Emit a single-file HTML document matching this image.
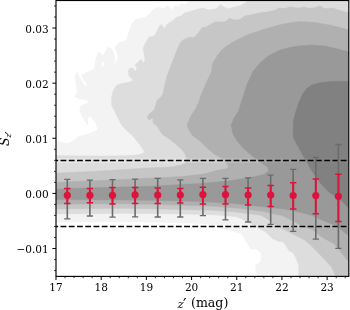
<!DOCTYPE html>
<html><head><meta charset="utf-8"><title>plot</title>
<style>html,body{margin:0;padding:0;background:#fff;}svg{display:block;}text{font-family:"DejaVu Serif","Liberation Serif",serif;fill:#000;}</style>
</head><body>
<svg width="350" height="310" viewBox="0 0 350 310">
<rect x="0" y="0" width="350" height="310" fill="#ffffff"/>
<defs><clipPath id="ax"><rect x="56.0" y="0.5" width="292.8" height="275.9"/></clipPath></defs>
<defs><linearGradient id="halo" gradientUnits="userSpaceOnUse" x1="56" y1="0" x2="300" y2="0"><stop offset="0" stop-color="#fff" stop-opacity="0.3"/><stop offset="0.6" stop-color="#fff" stop-opacity="0.2"/><stop offset="1" stop-color="#fff" stop-opacity="0.03"/></linearGradient></defs>
<g clip-path="url(#ax)">
<path d="M55.0 140.0L61.4 142.3L67.0 143.7L72.9 141.0L78.6 136.6L88.6 133.7L95.7 131.0L97.7 129.7L96.0 123.7L92.6 118.6L89.2 116.0L87.4 119.5L88.3 125.5L85.7 122.0L82.3 116.9L79.7 110.9L80.6 105.7L84.9 104.0L89.2 102.3L85.7 99.7L79.7 98.9L74.6 97.0L77.1 91.7L76.0 84.9L74.9 75.7L77.1 72.3L80.6 79.1L85.1 86.0L87.4 84.9L82.9 79.1L81.7 74.6L87.4 72.3L94.3 68.9L95.4 60.9L97.7 52.9L100.0 51.7L102.3 56.3L104.6 52.9L108.0 47.1L111.4 48.3L113.7 52.9L114.9 59.7L112.6 64.3L116.0 62.0L118.3 57.4L114.9 47.1L119.4 42.6L126.3 40.3L128.6 32.3L130.0 29.0L131.4 24.3L135.7 19.4L144.3 17.7L150.0 13.5L152.9 10.0L157.0 7.0L164.3 8.6L167.0 5.7L170.0 7.0L171.4 11.4L174.3 5.7L178.6 6.3L181.4 3.4L185.7 4.3L188.6 1.4L193.0 0.0L350.0 0.0L350.0 277.0L258.0 277.0L256.0 272.0L255.0 265.0L259.0 261.0L255.0 256.0L250.0 248.0L245.0 240.0L242.0 234.0L232.0 231.0L222.0 228.5L213.0 225.0L200.0 223.5L160.0 222.3L124.0 221.8L55.0 222.2Z" fill="#f3f3f3" stroke="#f3f3f3" stroke-width="0.4"/>
<path d="M85.2 62.0L86.4 64.3L85.2 66.6L84.0 64.3Z" fill="#ffffff" stroke="#ffffff" stroke-width="0.4"/>
<path d="M102.0 62.0L104.0 62.5L104.0 66.0L102.0 65.5Z" fill="#ffffff" stroke="#ffffff" stroke-width="0.4"/>
<path d="M250.0 250.0L256.0 249.0L261.0 254.0L260.0 262.0L255.0 265.0L250.0 264.0Z" fill="#ffffff" stroke="#ffffff" stroke-width="0.4"/>
<path d="M55.0 155.5L100.0 156.0L130.0 155.5L140.0 154.5L144.3 152.3L143.0 149.4L140.0 145.0L136.0 140.0L132.0 135.0L127.0 131.0L121.4 125.0L116.0 114.0L111.5 105.0L111.5 97.0L113.0 91.0L116.0 86.0L117.0 85.0L120.0 84.0L124.0 83.0L130.0 82.0L133.0 80.0L129.0 76.0L128.0 71.0L130.0 68.0L133.0 68.0L135.0 71.0L137.0 69.0L135.0 65.0L138.0 62.0L141.0 59.0L143.0 63.0L145.0 60.0L144.0 54.0L143.0 48.0L145.0 44.0L147.0 40.0L149.0 37.0L154.0 36.0L156.0 33.0L158.6 27.0L161.4 24.3L164.3 28.6L167.0 24.3L171.4 21.4L177.0 17.0L181.4 15.7L184.3 12.9L190.0 11.4L194.3 10.0L200.0 8.5L203.4 8.0L209.0 10.0L216.0 8.7L220.6 4.6L224.0 6.9L228.6 8.7L234.3 6.9L240.0 5.7L245.7 2.7L249.0 0.0L350.0 0.0L350.0 277.0L298.6 277.0L298.6 266.0L297.9 263.4L295.7 257.7L292.9 252.7L288.6 250.6L286.4 246.3L282.9 242.0L278.6 241.3L272.9 239.0L270.0 236.3L265.7 232.0L258.6 228.4L250.0 223.5L243.0 219.5L236.0 216.7L213.0 214.7L160.0 213.8L124.0 213.4L55.0 214.0Z" fill="#dddddd" stroke="#dddddd" stroke-width="0.4"/>
<path d="M55.0 173.2L68.0 172.6L100.0 171.0L148.0 168.0L171.0 166.9L180.0 165.3L185.5 163.3L186.7 160.5L186.0 156.5L184.3 152.5L182.0 150.0L178.0 146.0L173.0 142.0L168.0 138.0L163.0 135.0L160.0 131.0L157.0 126.0L153.0 123.0L153.0 118.0L149.0 120.0L147.0 117.0L150.0 113.0L154.0 110.0L156.0 104.0L157.0 100.0L160.0 98.0L163.0 94.0L164.0 88.0L165.0 84.0L167.0 76.0L170.0 68.0L171.4 64.3L174.3 57.0L177.0 50.0L180.0 43.0L183.0 40.0L186.0 38.6L190.0 37.0L193.4 38.0L197.7 33.7L202.0 27.7L207.0 26.5L212.0 23.4L215.7 21.7L221.0 22.0L225.0 21.7L229.7 18.3L234.3 20.0L240.0 19.4L244.6 16.0L250.0 15.0L258.6 12.9L267.0 12.0L275.7 10.0L278.6 8.0L284.3 8.6L290.0 7.0L298.6 8.0L304.3 7.0L310.0 8.6L317.0 7.0L320.0 5.7L324.3 8.6L333.0 8.0L338.6 10.0L345.7 12.0L350.0 12.5L350.0 277.0L335.2 277.0L334.3 272.6L331.6 267.2L326.2 260.9L318.9 253.6L310.0 244.5L304.2 239.8L300.0 237.5L297.0 236.3L290.0 232.5L281.7 228.5L275.0 224.5L268.0 219.5L261.0 215.3L236.0 212.1L213.0 210.2L160.0 209.0L124.0 208.3L55.0 209.0Z" fill="#c6c6c6" stroke="#c6c6c6" stroke-width="0.4"/>
<path d="M55.0 182.5L68.0 181.7L100.0 180.5L148.0 178.3L182.0 176.5L205.0 173.7L216.6 170.3L227.4 168.6L228.5 166.0L226.3 162.9L221.0 158.0L214.0 154.0L207.0 148.0L200.0 141.0L197.0 139.0L192.0 135.0L189.0 130.0L187.0 125.0L189.0 120.0L192.0 114.0L196.0 108.0L199.5 100.0L201.0 95.0L204.5 87.0L208.0 79.0L211.4 72.0L212.5 63.5L217.0 56.0L221.7 50.0L226.0 46.5L232.9 42.0L239.7 38.5L248.6 34.5L262.9 29.5L280.0 24.8L291.4 22.5L300.0 21.5L315.0 22.5L330.0 25.0L340.0 27.5L350.0 30.0L350.0 263.0L346.0 258.5L340.0 251.0L336.0 246.0L334.0 243.7L331.0 242.0L325.0 239.0L320.0 235.8L316.0 232.5L312.0 229.5L306.0 227.5L301.0 226.0L296.0 222.5L290.0 219.5L282.0 215.6L261.0 211.1L236.0 208.0L213.0 206.3L160.0 204.6L124.0 203.7L55.0 204.2Z" fill="#b0b0b0" stroke="#b0b0b0" stroke-width="0.4"/>
<path d="M55.0 189.5L68.0 188.6L100.0 187.5L148.0 186.3L200.0 183.4L213.7 182.3L227.4 181.1L241.0 178.9L254.9 176.6L264.0 174.3L268.6 170.9L267.5 167.0L261.7 163.0L256.0 159.0L250.0 154.0L243.0 148.0L237.0 141.0L233.0 134.0L231.0 125.0L234.0 118.0L238.6 111.0L241.0 103.0L243.5 95.0L247.0 84.3L252.9 71.4L260.0 62.9L268.6 55.7L280.0 50.0L291.4 47.0L300.0 45.7L312.0 45.0L325.0 46.0L338.0 49.0L350.0 52.0L350.0 236.5L344.0 232.0L336.0 225.5L322.0 220.3L312.0 215.6L301.0 212.5L290.0 210.0L282.0 208.8L261.0 206.6L236.0 203.7L213.0 202.2L190.0 201.2L160.0 200.4L124.0 199.9L55.0 199.6Z" fill="#999999" stroke="#999999" stroke-width="0.4"/>
<path d="M350.0 81.5L340.0 81.3L330.0 81.5L320.0 82.7L312.0 85.0L307.0 88.0L303.0 93.5L299.5 101.0L296.0 111.0L293.5 120.0L293.0 131.0L293.3 137.0L296.0 143.0L299.0 148.0L302.0 154.0L306.0 160.0L310.0 168.0L314.0 174.0L318.0 180.0L320.8 183.6L325.1 188.6L330.1 192.9L335.1 196.0L342.2 201.4L345.7 205.0L350.0 209.5Z" fill="#818181" stroke="#818181" stroke-width="0.4"/>
<rect x="56.0" y="158.30" width="292.8" height="4.6" fill="url(#halo)"/>
<line x1="56.0" x2="348.7" y1="160.60" y2="160.60" stroke="#000" stroke-width="1.5" stroke-dasharray="5.85 2.39" stroke-dashoffset="3.72"/>
<rect x="56.0" y="224.10" width="292.8" height="4.6" fill="url(#halo)"/>
<line x1="56.0" x2="348.7" y1="226.40" y2="226.40" stroke="#000" stroke-width="1.5" stroke-dasharray="5.85 2.39" stroke-dashoffset="3.72"/>
<g stroke="#6b6b6b" fill="none"><line x1="67.3" x2="67.3" y1="179.4" y2="218.9" stroke-width="1.6"/><line x1="64.2" x2="70.4" y1="179.4" y2="179.4" stroke-width="1.3"/><line x1="64.2" x2="70.4" y1="218.9" y2="218.9" stroke-width="1.3"/></g>
<g stroke="#6b6b6b" fill="none"><line x1="89.9" x2="89.9" y1="180.1" y2="216.0" stroke-width="1.6"/><line x1="86.8" x2="93.0" y1="180.1" y2="180.1" stroke-width="1.3"/><line x1="86.8" x2="93.0" y1="216.0" y2="216.0" stroke-width="1.3"/></g>
<g stroke="#6b6b6b" fill="none"><line x1="112.5" x2="112.5" y1="179.6" y2="217.1" stroke-width="1.6"/><line x1="109.4" x2="115.6" y1="179.6" y2="179.6" stroke-width="1.3"/><line x1="109.4" x2="115.6" y1="217.1" y2="217.1" stroke-width="1.3"/></g>
<g stroke="#6b6b6b" fill="none"><line x1="135.1" x2="135.1" y1="179.2" y2="216.9" stroke-width="1.6"/><line x1="132.0" x2="138.2" y1="179.2" y2="179.2" stroke-width="1.3"/><line x1="132.0" x2="138.2" y1="216.9" y2="216.9" stroke-width="1.3"/></g>
<g stroke="#6b6b6b" fill="none"><line x1="157.7" x2="157.7" y1="178.4" y2="217.0" stroke-width="1.6"/><line x1="154.6" x2="160.8" y1="178.4" y2="178.4" stroke-width="1.3"/><line x1="154.6" x2="160.8" y1="217.0" y2="217.0" stroke-width="1.3"/></g>
<g stroke="#6b6b6b" fill="none"><line x1="180.3" x2="180.3" y1="179.9" y2="217.0" stroke-width="1.6"/><line x1="177.2" x2="183.4" y1="179.9" y2="179.9" stroke-width="1.3"/><line x1="177.2" x2="183.4" y1="217.0" y2="217.0" stroke-width="1.3"/></g>
<g stroke="#6b6b6b" fill="none"><line x1="202.9" x2="202.9" y1="178.4" y2="215.6" stroke-width="1.6"/><line x1="199.8" x2="206.0" y1="178.4" y2="178.4" stroke-width="1.3"/><line x1="199.8" x2="206.0" y1="215.6" y2="215.6" stroke-width="1.3"/></g>
<g stroke="#6b6b6b" fill="none"><line x1="225.5" x2="225.5" y1="178.4" y2="219.9" stroke-width="1.6"/><line x1="222.4" x2="228.6" y1="178.4" y2="178.4" stroke-width="1.3"/><line x1="222.4" x2="228.6" y1="219.9" y2="219.9" stroke-width="1.3"/></g>
<g stroke="#6b6b6b" fill="none"><line x1="248.1" x2="248.1" y1="177.9" y2="222.0" stroke-width="1.6"/><line x1="245.0" x2="251.2" y1="177.9" y2="177.9" stroke-width="1.3"/><line x1="245.0" x2="251.2" y1="222.0" y2="222.0" stroke-width="1.3"/></g>
<g stroke="#6b6b6b" fill="none"><line x1="270.7" x2="270.7" y1="175.2" y2="224.3" stroke-width="1.6"/><line x1="267.6" x2="273.8" y1="175.2" y2="175.2" stroke-width="1.3"/><line x1="267.6" x2="273.8" y1="224.3" y2="224.3" stroke-width="1.3"/></g>
<g stroke="#6b6b6b" fill="none"><line x1="293.2" x2="293.2" y1="169.3" y2="231.3" stroke-width="1.6"/><line x1="290.1" x2="296.3" y1="169.3" y2="169.3" stroke-width="1.3"/><line x1="290.1" x2="296.3" y1="231.3" y2="231.3" stroke-width="1.3"/></g>
<g stroke="#6b6b6b" fill="none"><line x1="315.8" x2="315.8" y1="157.3" y2="239.1" stroke-width="1.6"/><line x1="312.7" x2="318.9" y1="157.3" y2="157.3" stroke-width="1.3"/><line x1="312.7" x2="318.9" y1="239.1" y2="239.1" stroke-width="1.3"/></g>
<g stroke="#6b6b6b" fill="none"><line x1="338.4" x2="338.4" y1="144.5" y2="248.4" stroke-width="1.6"/><line x1="335.3" x2="341.5" y1="144.5" y2="144.5" stroke-width="1.3"/><line x1="335.3" x2="341.5" y1="248.4" y2="248.4" stroke-width="1.3"/></g>
<g stroke="#dc143c" fill="none"><line x1="67.3" x2="67.3" y1="188.5" y2="203.4" stroke-width="2"/><line x1="64.1" x2="70.5" y1="188.5" y2="188.5" stroke-width="1.5"/><line x1="64.1" x2="70.5" y1="203.4" y2="203.4" stroke-width="1.5"/></g>
<circle cx="67.3" cy="195.3" r="3.6" fill="#dc143c"/>
<g stroke="#dc143c" fill="none"><line x1="89.9" x2="89.9" y1="188.5" y2="202.7" stroke-width="2"/><line x1="86.7" x2="93.1" y1="188.5" y2="188.5" stroke-width="1.5"/><line x1="86.7" x2="93.1" y1="202.7" y2="202.7" stroke-width="1.5"/></g>
<circle cx="89.9" cy="195.3" r="3.6" fill="#dc143c"/>
<g stroke="#dc143c" fill="none"><line x1="112.5" x2="112.5" y1="187.4" y2="204.1" stroke-width="2"/><line x1="109.3" x2="115.7" y1="187.4" y2="187.4" stroke-width="1.5"/><line x1="109.3" x2="115.7" y1="204.1" y2="204.1" stroke-width="1.5"/></g>
<circle cx="112.5" cy="195.3" r="3.6" fill="#dc143c"/>
<g stroke="#dc143c" fill="none"><line x1="135.1" x2="135.1" y1="187.4" y2="203.6" stroke-width="2"/><line x1="131.9" x2="138.3" y1="187.4" y2="187.4" stroke-width="1.5"/><line x1="131.9" x2="138.3" y1="203.6" y2="203.6" stroke-width="1.5"/></g>
<circle cx="135.1" cy="194.9" r="3.6" fill="#dc143c"/>
<g stroke="#dc143c" fill="none"><line x1="157.7" x2="157.7" y1="187.9" y2="203.6" stroke-width="2"/><line x1="154.5" x2="160.9" y1="187.9" y2="187.9" stroke-width="1.5"/><line x1="154.5" x2="160.9" y1="203.6" y2="203.6" stroke-width="1.5"/></g>
<circle cx="157.7" cy="195.0" r="3.6" fill="#dc143c"/>
<g stroke="#dc143c" fill="none"><line x1="180.3" x2="180.3" y1="188.4" y2="203.0" stroke-width="2"/><line x1="177.1" x2="183.5" y1="188.4" y2="188.4" stroke-width="1.5"/><line x1="177.1" x2="183.5" y1="203.0" y2="203.0" stroke-width="1.5"/></g>
<circle cx="180.3" cy="195.0" r="3.6" fill="#dc143c"/>
<g stroke="#dc143c" fill="none"><line x1="202.9" x2="202.9" y1="187.3" y2="204.0" stroke-width="2"/><line x1="199.7" x2="206.1" y1="187.3" y2="187.3" stroke-width="1.5"/><line x1="199.7" x2="206.1" y1="204.0" y2="204.0" stroke-width="1.5"/></g>
<circle cx="202.9" cy="194.6" r="3.6" fill="#dc143c"/>
<g stroke="#dc143c" fill="none"><line x1="225.5" x2="225.5" y1="186.4" y2="204.0" stroke-width="2"/><line x1="222.3" x2="228.7" y1="186.4" y2="186.4" stroke-width="1.5"/><line x1="222.3" x2="228.7" y1="204.0" y2="204.0" stroke-width="1.5"/></g>
<circle cx="225.5" cy="194.6" r="3.6" fill="#dc143c"/>
<g stroke="#dc143c" fill="none"><line x1="248.1" x2="248.1" y1="187.9" y2="205.0" stroke-width="2"/><line x1="244.9" x2="251.3" y1="187.9" y2="187.9" stroke-width="1.5"/><line x1="244.9" x2="251.3" y1="205.0" y2="205.0" stroke-width="1.5"/></g>
<circle cx="248.1" cy="195.0" r="3.6" fill="#dc143c"/>
<g stroke="#dc143c" fill="none"><line x1="270.7" x2="270.7" y1="185.6" y2="206.6" stroke-width="2"/><line x1="267.5" x2="273.9" y1="185.6" y2="185.6" stroke-width="1.5"/><line x1="267.5" x2="273.9" y1="206.6" y2="206.6" stroke-width="1.5"/></g>
<circle cx="270.7" cy="195.0" r="3.6" fill="#dc143c"/>
<g stroke="#dc143c" fill="none"><line x1="293.2" x2="293.2" y1="182.7" y2="209.1" stroke-width="2"/><line x1="290.0" x2="296.4" y1="182.7" y2="182.7" stroke-width="1.5"/><line x1="290.0" x2="296.4" y1="209.1" y2="209.1" stroke-width="1.5"/></g>
<circle cx="293.2" cy="195.5" r="3.6" fill="#dc143c"/>
<g stroke="#dc143c" fill="none"><line x1="315.8" x2="315.8" y1="179.0" y2="213.7" stroke-width="2"/><line x1="312.6" x2="319.0" y1="179.0" y2="179.0" stroke-width="1.5"/><line x1="312.6" x2="319.0" y1="213.7" y2="213.7" stroke-width="1.5"/></g>
<circle cx="315.8" cy="195.6" r="3.6" fill="#dc143c"/>
<g stroke="#dc143c" fill="none"><line x1="338.4" x2="338.4" y1="174.2" y2="221.4" stroke-width="2"/><line x1="335.2" x2="341.6" y1="174.2" y2="174.2" stroke-width="1.5"/><line x1="335.2" x2="341.6" y1="221.4" y2="221.4" stroke-width="1.5"/></g>
<circle cx="338.4" cy="196.3" r="3.6" fill="#dc143c"/>
</g>
<g stroke="#000"><line x1="56.00" x2="56.00" y1="276.4" y2="280.0" stroke-width="1"/><line x1="101.19" x2="101.19" y1="276.4" y2="280.0" stroke-width="1"/><line x1="146.38" x2="146.38" y1="276.4" y2="280.0" stroke-width="1"/><line x1="191.57" x2="191.57" y1="276.4" y2="280.0" stroke-width="1"/><line x1="236.76" x2="236.76" y1="276.4" y2="280.0" stroke-width="1"/><line x1="281.95" x2="281.95" y1="276.4" y2="280.0" stroke-width="1"/><line x1="327.14" x2="327.14" y1="276.4" y2="280.0" stroke-width="1"/><line x1="65.04" x2="65.04" y1="276.4" y2="278.3" stroke-width="0.8"/><line x1="74.08" x2="74.08" y1="276.4" y2="278.3" stroke-width="0.8"/><line x1="83.11" x2="83.11" y1="276.4" y2="278.3" stroke-width="0.8"/><line x1="92.15" x2="92.15" y1="276.4" y2="278.3" stroke-width="0.8"/><line x1="110.23" x2="110.23" y1="276.4" y2="278.3" stroke-width="0.8"/><line x1="119.27" x2="119.27" y1="276.4" y2="278.3" stroke-width="0.8"/><line x1="128.30" x2="128.30" y1="276.4" y2="278.3" stroke-width="0.8"/><line x1="137.34" x2="137.34" y1="276.4" y2="278.3" stroke-width="0.8"/><line x1="155.42" x2="155.42" y1="276.4" y2="278.3" stroke-width="0.8"/><line x1="164.46" x2="164.46" y1="276.4" y2="278.3" stroke-width="0.8"/><line x1="173.49" x2="173.49" y1="276.4" y2="278.3" stroke-width="0.8"/><line x1="182.53" x2="182.53" y1="276.4" y2="278.3" stroke-width="0.8"/><line x1="200.61" x2="200.61" y1="276.4" y2="278.3" stroke-width="0.8"/><line x1="209.65" x2="209.65" y1="276.4" y2="278.3" stroke-width="0.8"/><line x1="218.68" x2="218.68" y1="276.4" y2="278.3" stroke-width="0.8"/><line x1="227.72" x2="227.72" y1="276.4" y2="278.3" stroke-width="0.8"/><line x1="245.80" x2="245.80" y1="276.4" y2="278.3" stroke-width="0.8"/><line x1="254.84" x2="254.84" y1="276.4" y2="278.3" stroke-width="0.8"/><line x1="263.87" x2="263.87" y1="276.4" y2="278.3" stroke-width="0.8"/><line x1="272.91" x2="272.91" y1="276.4" y2="278.3" stroke-width="0.8"/><line x1="290.99" x2="290.99" y1="276.4" y2="278.3" stroke-width="0.8"/><line x1="300.03" x2="300.03" y1="276.4" y2="278.3" stroke-width="0.8"/><line x1="309.06" x2="309.06" y1="276.4" y2="278.3" stroke-width="0.8"/><line x1="318.10" x2="318.10" y1="276.4" y2="278.3" stroke-width="0.8"/><line x1="336.18" x2="336.18" y1="276.4" y2="278.3" stroke-width="0.8"/><line x1="345.22" x2="345.22" y1="276.4" y2="278.3" stroke-width="0.8"/><line x1="52.4" x2="56.0" y1="248.52" y2="248.52" stroke-width="1"/><line x1="52.4" x2="56.0" y1="193.40" y2="193.40" stroke-width="1"/><line x1="52.4" x2="56.0" y1="138.28" y2="138.28" stroke-width="1"/><line x1="52.4" x2="56.0" y1="83.16" y2="83.16" stroke-width="1"/><line x1="52.4" x2="56.0" y1="28.04" y2="28.04" stroke-width="1"/><line x1="54.1" x2="56.0" y1="270.57" y2="270.57" stroke-width="0.8"/><line x1="54.1" x2="56.0" y1="259.54" y2="259.54" stroke-width="0.8"/><line x1="54.1" x2="56.0" y1="237.50" y2="237.50" stroke-width="0.8"/><line x1="54.1" x2="56.0" y1="226.47" y2="226.47" stroke-width="0.8"/><line x1="54.1" x2="56.0" y1="215.45" y2="215.45" stroke-width="0.8"/><line x1="54.1" x2="56.0" y1="204.42" y2="204.42" stroke-width="0.8"/><line x1="54.1" x2="56.0" y1="182.38" y2="182.38" stroke-width="0.8"/><line x1="54.1" x2="56.0" y1="171.35" y2="171.35" stroke-width="0.8"/><line x1="54.1" x2="56.0" y1="160.33" y2="160.33" stroke-width="0.8"/><line x1="54.1" x2="56.0" y1="149.30" y2="149.30" stroke-width="0.8"/><line x1="54.1" x2="56.0" y1="127.26" y2="127.26" stroke-width="0.8"/><line x1="54.1" x2="56.0" y1="116.23" y2="116.23" stroke-width="0.8"/><line x1="54.1" x2="56.0" y1="105.21" y2="105.21" stroke-width="0.8"/><line x1="54.1" x2="56.0" y1="94.18" y2="94.18" stroke-width="0.8"/><line x1="54.1" x2="56.0" y1="72.14" y2="72.14" stroke-width="0.8"/><line x1="54.1" x2="56.0" y1="61.11" y2="61.11" stroke-width="0.8"/><line x1="54.1" x2="56.0" y1="50.09" y2="50.09" stroke-width="0.8"/><line x1="54.1" x2="56.0" y1="39.06" y2="39.06" stroke-width="0.8"/><line x1="54.1" x2="56.0" y1="17.02" y2="17.02" stroke-width="0.8"/><line x1="54.1" x2="56.0" y1="5.99" y2="5.99" stroke-width="0.8"/></g>
<rect x="56.0" y="0.5" width="292.8" height="275.9" fill="none" stroke="#000" stroke-width="1.15"/>
<text x="56.0" y="291.2" font-size="10.5" text-anchor="middle">17</text>
<text x="101.2" y="291.2" font-size="10.5" text-anchor="middle">18</text>
<text x="146.4" y="291.2" font-size="10.5" text-anchor="middle">19</text>
<text x="191.6" y="291.2" font-size="10.5" text-anchor="middle">20</text>
<text x="236.8" y="291.2" font-size="10.5" text-anchor="middle">21</text>
<text x="281.9" y="291.2" font-size="10.5" text-anchor="middle">22</text>
<text x="327.1" y="291.2" font-size="10.5" text-anchor="middle">23</text>
<text x="48.6" y="253.0" font-size="10.5" text-anchor="end">−0.01</text>
<text x="48.6" y="197.8" font-size="10.5" text-anchor="end">0.00</text>
<text x="48.6" y="142.7" font-size="10.5" text-anchor="end">0.01</text>
<text x="48.6" y="87.6" font-size="10.5" text-anchor="end">0.02</text>
<text x="48.6" y="32.5" font-size="10.5" text-anchor="end">0.03</text>
<text x="177.6" y="307.5" font-size="11.8" font-style="italic">z</text><text x="183.1" y="310.2" font-size="16">′</text><text x="191.0" y="307.2" font-size="12.6">(mag)</text>
<text transform="translate(9.4 146.1) rotate(-90)" font-size="12.6" font-style="italic">S</text><text transform="translate(11.4 137.8) rotate(-90)" font-size="7.6" font-style="italic">z</text><text transform="translate(14.6 134.3) rotate(-90)" font-size="12">′</text>
</svg></body></html>
